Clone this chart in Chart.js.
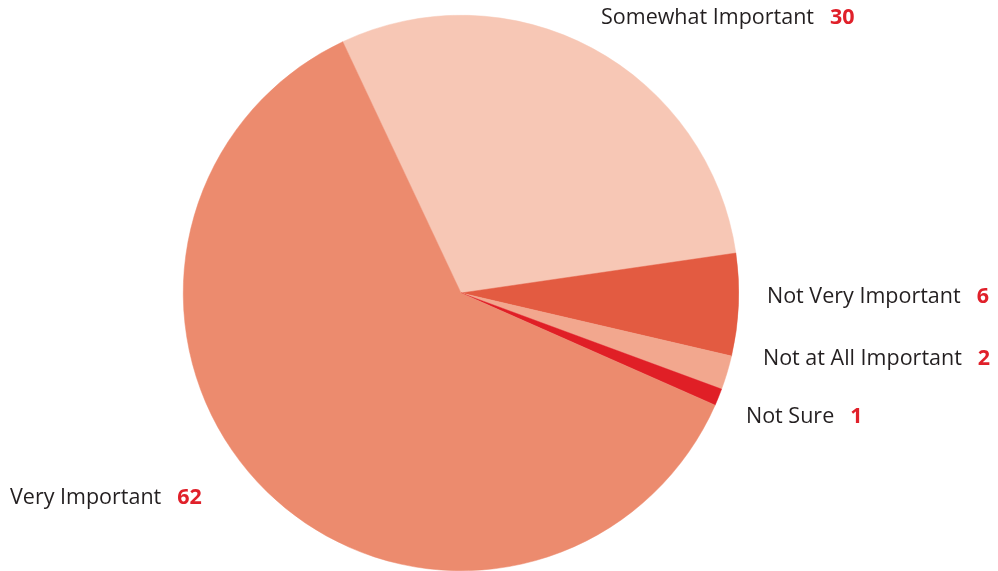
<!DOCTYPE html>
<html>
<head>
<meta charset="utf-8">
<script src="https://cdn.jsdelivr.net/npm/chart.js@4/dist/chart.umd.min.js"></script>
<style>
  html, body { margin: 0; padding: 0; background: #ffffff; }
  #wrap { width: 998px; height: 571px; position: relative; }
</style>
</head>
<body>
<div id="wrap"><canvas id="c" width="998" height="571"></canvas></div>
<script>
// Survey answers and their percentages, clockwise from the upper-left edge
const categories = ['Somewhat Important', 'Not Very Important', 'Not at All Important', 'Not Sure', 'Very Important'];
const values = [30, 6, 2, 1, 62];
const sliceColors = ['#F7C7B5', '#E35B41', '#F2A78E', '#E01F26', '#EC8B6E'];

// Where each label line starts (left x, vertical middle y)
const labelAnchors = [
  { x: 601, y: 18 },
  { x: 767, y: 297 },
  { x: 763, y: 359 },
  { x: 746, y: 417 },
  { x: 10,  y: 498 }
];

const FONT_FAMILY = '"Open Sans", "Noto Sans", sans-serif';
const FONT_SIZE = 21.5;

const labelPlugin = {
  id: 'sliceLabels',
  afterDraw(chart) {
    const ctx = chart.ctx;
    ctx.save();
    ctx.textBaseline = 'middle';
    ctx.textAlign = 'left';
    categories.forEach((name, i) => {
      const a = labelAnchors[i];
      ctx.font = `400 ${FONT_SIZE}px ${FONT_FAMILY}`;
      ctx.fillStyle = '#231F20';
      ctx.fillText(name, a.x, a.y);
      const w = ctx.measureText(name).width;
      ctx.font = `700 ${FONT_SIZE}px ${FONT_FAMILY}`;
      ctx.fillStyle = '#E0202A';
      ctx.fillText(String(values[i]), a.x + w + 16, a.y);
    });
    ctx.restore();
  }
};

new Chart(document.getElementById('c'), {
  type: 'pie',
  data: {
    labels: categories,
    datasets: [{
      data: values,
      backgroundColor: sliceColors,
      borderColor: sliceColors,
      borderWidth: 0.5
    }]
  },
  options: {
    responsive: false,
    animation: false,
    rotation: -25.2,
    layout: { padding: { left: 183, right: 259, top: 15, bottom: 0 } },
    plugins: {
      legend: { display: false },
      tooltip: { enabled: false }
    }
  },
  plugins: [labelPlugin]
});
</script>
</body>
</html>
